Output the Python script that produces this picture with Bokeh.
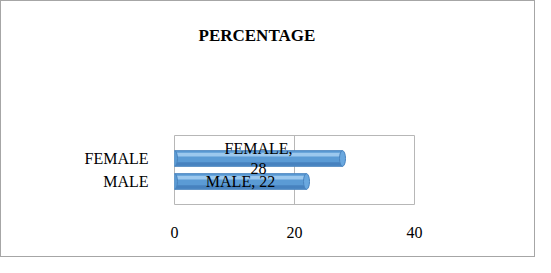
from bokeh.plotting import figure
from bokeh.models import FactorRange, Range1d, FixedTicker, ColumnDataSource, Title
from bokeh.transform import dodge
from bokeh.core.properties import value
from bokeh.embed import file_html
from bokeh.resources import INLINE

categories = ["MALE", "FEMALE"]
percentages = [22, 28]
data_labels = ["MALE, 22", "FEMALE,\n28"]
x_ticks = [0, 20, 40]
title_text = "PERCENTAGE"

FONT = "Liberation Serif"

src = ColumnDataSource(dict(
    cat=categories,
    val=percentages,
    mid=[v / 2 for v in percentages],
    lab=data_labels,
))

p = figure(
    width=535, height=257,
    y_range=FactorRange(factors=categories, range_padding=0.5),
    x_range=Range1d(0, 40),
    output_backend="svg", toolbar_location=None,
    min_border_left=173, min_border_right=122,
    min_border_top=134, min_border_bottom=54,
)
p.styles = {"border": "1px solid #a6a6a6"}

spacer = Title(text=" ", text_font_size="17px", standoff=65)
main_title = Title(text=title_text, text_font=FONT, text_font_size="17px",
                   text_font_style="bold", text_color="#000000",
                   align="left", offset=24, standoff=10)
p.add_layout(spacer, "above")
p.add_layout(main_title, "above")

# bars (cylinder look)
p.hbar(y="cat", right="val", left=0, height=0.68, source=src,
       fill_color="#5b9bd5", line_color="#4a84bf", line_width=1)
p.hbar(y=dodge("cat", -0.24, range=p.y_range), right="val", left=0.2,
       height=0.16, source=src, fill_color="#3f78b5", line_color=None,
       fill_alpha=0.7)
p.hbar(y=dodge("cat", 0.17, range=p.y_range), right="val", left=0.2,
       height=0.16, source=src, fill_color="#9cc8ee", line_color=None)
p.ellipse(x="val", y="cat", width=1.0, height=0.68, source=src,
          fill_color="#6aa8df", line_color="#4a84bf")
p.ellipse(x=0, y="cat", width=1.0, height=0.68, source=src,
          fill_color="#5b9bd5", line_color="#4a84bf")

# data labels
p.text(x="mid", y="cat", text="lab", source=src,
       text_font=value(FONT), text_font_size="16px",
       text_align="center", text_baseline="middle",
       text_color="#000000")

# axes
p.xaxis.ticker = FixedTicker(ticks=x_ticks)
p.xaxis.axis_line_color = None
p.xaxis.major_tick_line_color = None
p.xaxis.minor_tick_line_color = None
p.xaxis.major_label_text_font = FONT
p.xaxis.major_label_text_font_size = "16px"
p.xaxis.major_label_text_color = "#000000"
p.xaxis.major_label_standoff = 16

p.yaxis.axis_line_color = None
p.yaxis.major_tick_line_color = None
p.yaxis.major_label_text_font = FONT
p.yaxis.major_label_text_font_size = "16px"
p.yaxis.major_label_text_color = "#000000"
p.yaxis.major_label_standoff = 20

p.xgrid.grid_line_color = "#b7b7b7"
p.ygrid.grid_line_color = None
p.outline_line_color = "#b7b7b7"

open("out.html", "w").write(file_html(p, INLINE))
